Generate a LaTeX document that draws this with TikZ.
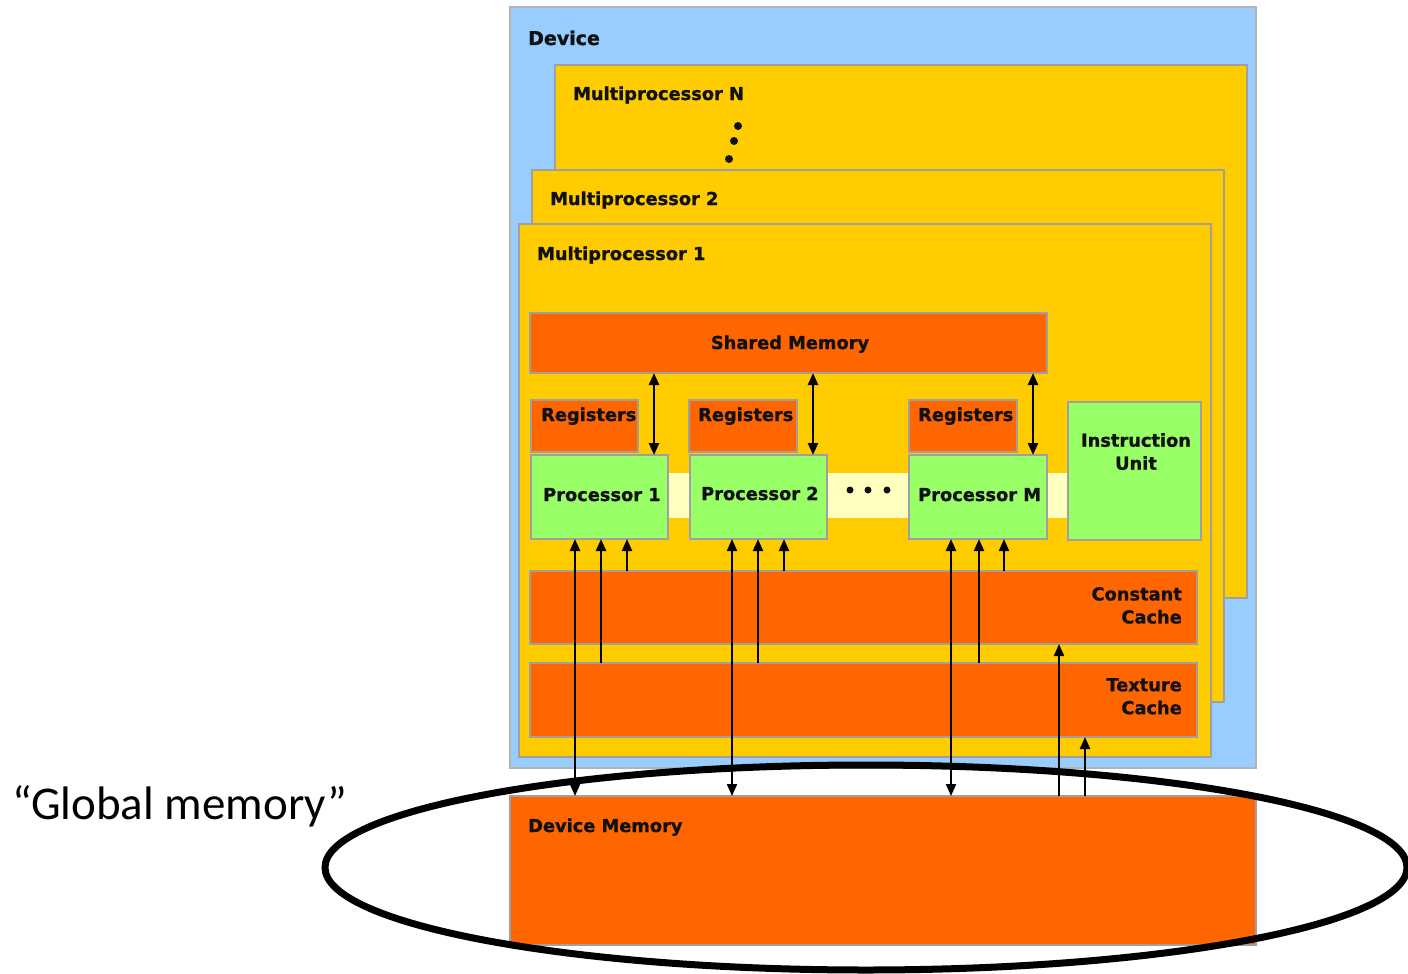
\documentclass[tikz,border=0pt]{standalone}
\usepackage{fontspec}
\newfontfamily\lblfont{DejaVu Sans Bold}[FakeBold=1.2]
\newfontfamily\notefont{Carlito}
\usetikzlibrary{arrows.meta,shapes.geometric}

\definecolor{devblue}{HTML}{99CCFF}
\definecolor{mpyellow}{HTML}{FFCC00}
\definecolor{memorange}{HTML}{FF6600}
\definecolor{procgreen}{HTML}{99FF66}
\definecolor{bandyellow}{HTML}{FFFFC0}
\definecolor{edgegray}{HTML}{A0A0A0}
\definecolor{inkblack}{HTML}{111111}

\begin{document}
\begin{tikzpicture}[x=1pt,y=-1pt,
  box/.style={draw=edgegray, line width=1.2pt, inner sep=0pt, outer sep=0pt, anchor=north west},
  lbl/.style={font=\lblfont\fontsize{17.8}{23}\selectfont, inner sep=0pt, text=inkblack},
  dbl/.style={line width=2.1pt, {Triangle[length=12pt,width=10pt]}-{Triangle[length=12pt,width=10pt]}},
  upar/.style={line width=2.1pt, -{Triangle[length=12pt,width=10pt]}},
]
\useasboundingbox (0,0) rectangle (1408,974);

% device and the stack of multiprocessors
\node[box, draw=edgegray!80, fill=devblue, minimum width=746pt, minimum height=761pt] (dev) at (510,7) {};
\node[box, fill=mpyellow, minimum width=692pt, minimum height=533pt] (mpn) at (555,65) {};
\node[box, fill=mpyellow, minimum width=692pt, minimum height=532pt] (mp2) at (532,170) {};
\node[box, fill=mpyellow, minimum width=692pt, minimum height=533pt] (mp1) at (519,224) {};

\node[lbl, font=\lblfont\fontsize{19}{23}\selectfont, anchor=base west] (tdev) at (528,45) {Device};
\node[lbl, anchor=base west] (tmpn) at (573,100) {Multiprocessor N};
\node[lbl, anchor=base west] (tmp2) at (550,205) {Multiprocessor 2};
\node[lbl, anchor=base west] (tmp1) at (537,260) {Multiprocessor 1};

% vertical ellipsis between multiprocessors
\fill[inkblack] (738,126) circle (4);
\fill[inkblack] (734,141) circle (4);
\fill[inkblack] (729,159) circle (4);

% inside multiprocessor 1
\node[box, fill=memorange, minimum width=517pt, minimum height=60pt] (smem) at (530,313) {};
\node[lbl, anchor=base] (tsm) at (790,349) {Shared Memory};

\node[box, draw=none, fill=bandyellow, minimum width=400pt, minimum height=45pt] (band) at (668,473) {};

\node[box, fill=memorange, minimum width=107pt, minimum height=52pt] (reg1) at (531,400) {};
\node[box, fill=memorange, minimum width=108pt, minimum height=52pt] (reg2) at (689,400) {};
\node[box, fill=memorange, minimum width=108pt, minimum height=52pt] (regm) at (909,400) {};
\node[lbl, anchor=base west] (treg1) at (541,421) {Registers};
\node[lbl, anchor=base west] (treg2) at (698,421) {Registers};
\node[lbl, anchor=base west] (tregm) at (918,421) {Registers};

\node[box, fill=procgreen, minimum width=137pt, minimum height=84pt] (p1) at (531,455) {};
\node[box, fill=procgreen, minimum width=137pt, minimum height=84pt] (p2) at (690,455) {};
\node[box, fill=procgreen, minimum width=138pt, minimum height=84pt] (pm) at (909,455) {};
\node[lbl, anchor=base west] (tp1) at (543,501) {Processor 1};
\node[lbl, anchor=base west] (tp2) at (701,500) {Processor 2};
\node[lbl, anchor=base west] (tpm) at (918,501) {Processor M};

% horizontal ellipsis between processors
\fill[inkblack] (850,490) circle (3.5);
\fill[inkblack] (868,490) circle (3.5);
\fill[inkblack] (887,490) circle (3.5);

\node[box, fill=procgreen, minimum width=133pt, minimum height=138pt] (iu) at (1068,402) {};
\node[lbl, anchor=north, align=center] (tiu) at (1136,433) {Instruction\\Unit};

\node[box, fill=memorange, minimum width=667pt, minimum height=73pt] (ccache) at (530,571) {};
\node[box, fill=memorange, minimum width=667pt, minimum height=74pt] (tcache) at (530,663) {};
\node[lbl, anchor=north east, align=right] (tcc) at (1182,587) {Constant\\Cache};
\node[lbl, anchor=north east, align=right] (ttc) at (1182,678) {Texture\\Cache};

% global device memory
\node[box, fill=memorange, minimum width=746pt, minimum height=149pt] (dmem) at (510,796) {};
\node[lbl, anchor=base west] (tdm) at (528,832) {Device Memory};

% arrow columns
\coordinate (c1) at (654,0);
\coordinate (c2) at (813,0);
\coordinate (c3) at (1033,0);
\coordinate (a1) at (575,0);
\coordinate (a2) at (601,0);
\coordinate (a3) at (627,0);
\coordinate (b1) at (732,0);
\coordinate (b2) at (758,0);
\coordinate (b3) at (784,0);
\coordinate (m1) at (951,0);
\coordinate (m2) at (979,0);
\coordinate (m3) at (1004,0);
\coordinate (d1) at (1059,0);
\coordinate (d2) at (1085,0);

% shared memory <-> processors
\draw[dbl, line width=2.4pt] (smem.south -| c1) -- (p1.north -| c1);
\draw[dbl, line width=2.4pt] (smem.south -| c2) -- (p2.north -| c2);
\draw[dbl, line width=2.4pt] (smem.south -| c3) -- (pm.north -| c3);

% processors <-> device memory, caches -> processors
\draw[dbl] (p1.south -| a1) -- (dmem.north -| a1);
\draw[upar] (tcache.north -| a2) -- (p1.south -| a2);
\draw[upar] (ccache.north -| a3) -- (p1.south -| a3);
\draw[dbl] (p2.south -| b1) -- (dmem.north -| b1);
\draw[upar] (tcache.north -| b2) -- (p2.south -| b2);
\draw[upar] (ccache.north -| b3) -- (p2.south -| b3);
\draw[dbl] (pm.south -| m1) -- (dmem.north -| m1);
\draw[upar] (tcache.north -| m2) -- (pm.south -| m2);
\draw[upar] (ccache.north -| m3) -- (pm.south -| m3);

% device memory -> caches
\draw[upar] (dmem.north -| d1) -- (ccache.south -| d1);
\draw[upar] (dmem.north -| d2) -- (tcache.south -| d2);

% highlight of the global memory
\node[draw=black, line width=7pt, ellipse, inner sep=0pt, minimum width=1082pt, minimum height=205pt] (gm) at (866,867.5) {};
\node[font=\notefont\fontsize{47}{56}\selectfont, anchor=base west, inner sep=0pt] (gmlbl) at (12,819) {“Global memory”};
\end{tikzpicture}
\end{document}
